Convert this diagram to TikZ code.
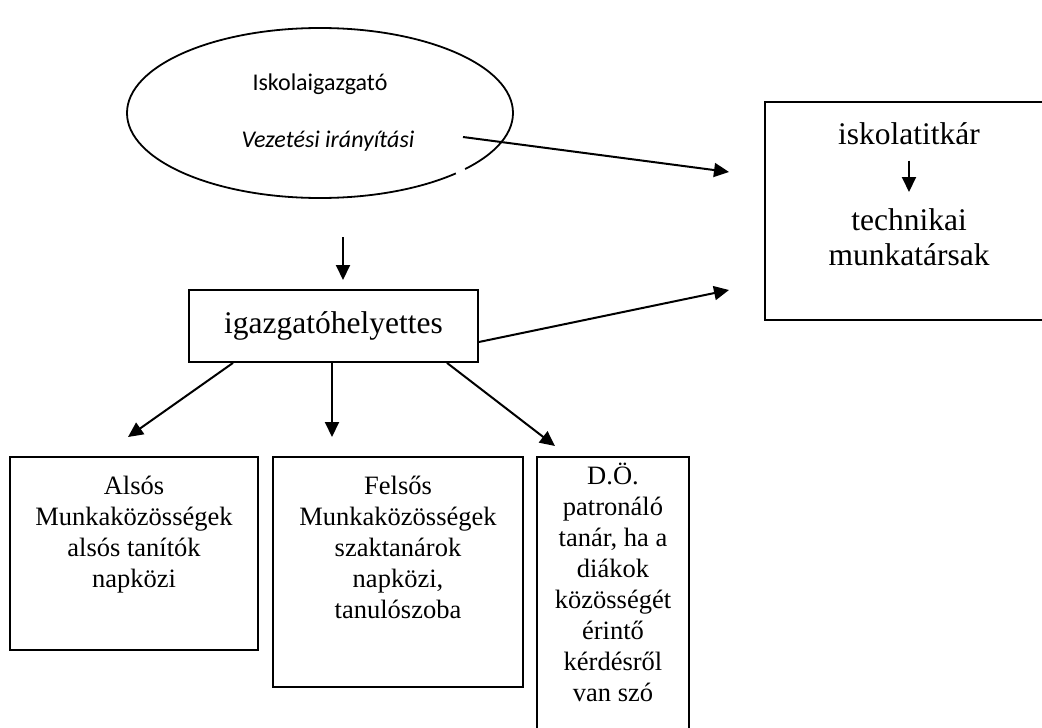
\documentclass[tikz,border=0pt]{standalone}
\usepackage{fontspec}
\setmainfont{Liberation Serif}
\newfontfamily\calib{Carlito}
\usetikzlibrary{arrows.meta,shapes.geometric}
\begin{document}
\begin{tikzpicture}[x=1pt,y=-1pt,
  arr/.style={-{Triangle[length=15pt,width=14pt]}, line width=2pt},
  box/.style={draw, line width=1.8pt, rectangle, inner sep=0pt},
  big/.style={font=\fontsize{31.5}{35}\selectfont, inner sep=0pt},
  small/.style={font=\fontsize{26.5}{31}\selectfont, align=center, anchor=north, inner sep=0pt},
  cal/.style={font=\calib\fontsize{24}{29}\selectfont, inner sep=0pt, anchor=base},
  calit/.style={font=\calib\itshape\fontsize{24}{29}\selectfont, inner sep=0pt, anchor=base}]
\useasboundingbox (0,0) rectangle (1042,728);
\clip (0,0) rectangle (1042,728);
% director ellipse
\node[ellipse, draw, line width=1.8pt, minimum width=386pt, minimum height=170pt, inner sep=0pt] (dir) at (320,113) {};
\draw[white, line width=5pt] (456,173.3) -- (465,169.1);
\node[cal] (dirname) at (320,90) {Iskolaigazgató};
\node[calit] (dirsub) at (328,147) {Vezetési irányítási};
% deputy
\node[box, big, minimum width=289pt, minimum height=72pt] (ihe) at (333.5,326) {igazgatóhelyettes};
% secretary box
\node[box, minimum width=288pt, minimum height=218pt] (sec) at (909,211) {};
\node[big, anchor=base] (isk) at (909,144) {iskolatitkár};
\node[big, anchor=north, align=center] (tech) at (909,205.5) {\strut technikai\\munkatársak};
\draw[arr] ([yshift=-16pt]isk.south) -- ([yshift=13.5pt]tech.north);
% bottom boxes
\node[box, minimum width=248pt, minimum height=193pt] (als) at (134,553.5) {};
\node[small] (alst) at (134,472.3) {\strut Alsós\\Munkaközösségek\\alsós tanítók\\napközi};
\node[box, minimum width=250pt, minimum height=230pt] (fel) at (398,572) {};
\node[small] (felt) at (398,472.3) {\strut Felsős\\Munkaközösségek\\szaktanárok\\napközi,\\tanulószoba};
\node[box, minimum width=152pt, minimum height=283pt] (do) at (613,598.5) {};
\node[small] (dot) at (613,462.3) {\strut D.Ö.\\patronáló\\tanár, ha a\\diákok\\közösségét\\érintő\\kérdésről\\van szó};
% connectors
\coordinate (a1s) at (463,137);
\coordinate (a1e) at (729,172);
\draw[arr] (a1s) -- (a1e);
\coordinate (d1) at (343,237);
\coordinate (d2) at (343,280);
\draw[arr] (d1) -- (d2);
\coordinate (a2e) at (729,290);
\draw[arr] ([yshift=-16pt]ihe.east) -- (a2e);
\coordinate (b1) at (128,437);
\coordinate (b2) at (332,437);
\coordinate (b3) at (555,446);
\draw[arr] ([xshift=-100.5pt]ihe.south) -- (b1);
\draw[arr] ([xshift=-1.5pt]ihe.south) -- (b2);
\draw[arr] ([xshift=113.5pt]ihe.south) -- (b3);
\end{tikzpicture}
\end{document}
